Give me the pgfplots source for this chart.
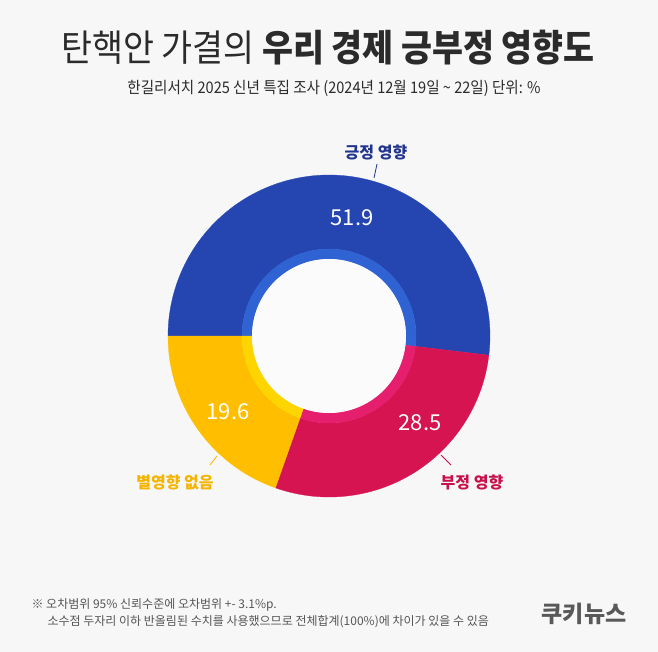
\documentclass[border=0pt]{standalone}
\usepackage{pgfplots}
\pgfplotsset{compat=1.18}
\usepackage{pgfplotstable}
\usepackage{graphicx}
\usepackage{fontspec}
\setmainfont{Noto Sans CJK KR}
\definecolor{bgc}{HTML}{F7F7F7}
\definecolor{holec}{HTML}{FBFBFC}
\definecolor{cBlue}{HTML}{2546B0}
\definecolor{cBlueIn}{HTML}{2F62D3}
\definecolor{cRed}{HTML}{D61452}
\definecolor{cRedIn}{HTML}{E51E6E}
\definecolor{cYel}{HTML}{FFBF00}
\definecolor{cYelIn}{HTML}{FFD500}
\definecolor{lBlue}{HTML}{22358E}
\definecolor{lRed}{HTML}{C8104B}
\definecolor{lYel}{HTML}{F4B400}
\definecolor{titlec}{HTML}{2B2B2B}
\definecolor{notec}{HTML}{555555}
\definecolor{logoc}{HTML}{595959}

\pgfplotstableread{
name value
pos 51.9
neg 28.5
none 19.6
}\pietable

\begin{document}
\begin{tikzpicture}[
  declare function={
    wt(\t,\a,\b)=ifthenelse(\t<=1,\a+\t*(\b-\a),ifthenelse(\t<=1.1,\b,\b-(\t-1.1)*(\b-\a)));
    wr(\t,\R,\r)=ifthenelse(\t<=1,\R,ifthenelse(\t<=1.1,\R+(\t-1)*10*(\r-\R),\r));
  }]
\pgfplotstablegetelem{0}{value}\of\pietable \let\vA\pgfplotsretval
\pgfplotstablegetelem{1}{value}\of\pietable \let\vB\pgfplotsretval
\pgfplotstablegetelem{2}{value}\of\pietable \let\vC\pgfplotsretval
\pgfmathsetmacro\aA{180}
\pgfmathsetmacro\bA{\aA-3.6*\vA}
\pgfmathsetmacro\bB{\bA-3.6*\vB}
\pgfmathsetmacro\bC{\bB-3.6*\vC}
\def\cx{329}\def\cy{336}
\begin{axis}[width=658pt,height=652pt,scale only axis,
  xmin=0,xmax=658,ymin=0,ymax=652,y dir=reverse,hide axis,clip=false]
\fill[bgc] (rel axis cs:0,0) rectangle (rel axis cs:1,1);
% outer ring
\addplot[fill=cBlue,draw=cBlue,line width=0.3pt,domain=0:2.1,samples=211]
  ({\cx+wr(x,161,87)*cos(wt(x,\aA,\bA))},{\cy-wr(x,161,87)*sin(wt(x,\aA,\bA))}) -- cycle;
\addplot[fill=cRed,draw=cRed,line width=0.3pt,domain=0:2.1,samples=211]
  ({\cx+wr(x,161,87)*cos(wt(x,\bA,\bB))},{\cy-wr(x,161,87)*sin(wt(x,\bA,\bB))}) -- cycle;
\addplot[fill=cYel,draw=cYel,line width=0.3pt,domain=0:2.1,samples=211]
  ({\cx+wr(x,161,87)*cos(wt(x,\bB,\bC))},{\cy-wr(x,161,87)*sin(wt(x,\bB,\bC))}) -- cycle;
% inner ring
\addplot[fill=cBlueIn,draw=cBlueIn,line width=0.3pt,domain=0:2.1,samples=211]
  ({\cx+wr(x,87,77)*cos(wt(x,\aA,\bA))},{\cy-wr(x,87,77)*sin(wt(x,\aA,\bA))}) -- cycle;
\addplot[fill=cRedIn,draw=cRedIn,line width=0.3pt,domain=0:2.1,samples=211]
  ({\cx+wr(x,87,77)*cos(wt(x,\bA,\bB))},{\cy-wr(x,87,77)*sin(wt(x,\bA,\bB))}) -- cycle;
\addplot[fill=cYelIn,draw=cYelIn,line width=0.3pt,domain=0:2.1,samples=211]
  ({\cx+wr(x,87,77)*cos(wt(x,\bB,\bC))},{\cy-wr(x,87,77)*sin(wt(x,\bB,\bC))}) -- cycle;
% hole
\addplot[fill=holec,draw=none,domain=0:360,samples=181]
  ({\cx+77*cos(x)},{\cy-77*sin(x)}) -- cycle;
% leader lines
\draw[lBlue,line width=0.8pt] (axis cs:377,164) -- (axis cs:374,178);
\draw[lRed,line width=0.8pt] (axis cs:441,455) -- (axis cs:451,465);
\draw[lYel,line width=0.8pt] (axis cs:210,465) -- (axis cs:217,456);
% category labels
\node[text=lBlue,font=\fontsize{16}{16}\selectfont\bfseries] at (axis cs:376,152) {긍정 영향};
\node[text=lRed,font=\fontsize{16}{16}\selectfont\bfseries] at (axis cs:472,482) {부정 영향};
\node[text=lYel,font=\fontsize{16}{16}\selectfont\bfseries] at (axis cs:175,482) {별영향 없음};
% values
\node[text=white,font=\fontsize{22}{22}\selectfont] at (axis cs:352,218) {\vA};
\node[text=white,font=\fontsize{22}{22}\selectfont] at (axis cs:420,423) {\vB};
\node[text=white,font=\fontsize{22}{22}\selectfont] at (axis cs:228,412) {\vC};
% titles
\node[text=titlec,font=\fontsize{37}{37}\selectfont] at (axis cs:328,48) {\scalebox{0.91}[1]{탄핵안 가결의 \textbf{우리 경제 긍부정 영향도}}};
\node[text=titlec,font=\fontsize{16}{16}\selectfont] at (axis cs:334,88) {\scalebox{0.91}[1]{한길리서치 2025 신년 특집 조사 (2024년 12월 19일 \textasciitilde{} 22일) 단위: \%}};
% notes
\node[text=notec,anchor=west,font=\fontsize{12}{12}\selectfont] at (axis cs:28,605) {※ 오차범위 95\% 신뢰수준에 오차범위 +- 3.1\%p.};
\node[text=notec,anchor=west,font=\fontsize{12}{12}\selectfont] at (axis cs:44,622) {소수점 두자리 이하 반올림된 수치를 사용했으므로 전체합계(100\%)에 차이가 있을 수 있음};
\node[text=logoc,font=\fontsize{23}{23}\selectfont\bfseries] at (axis cs:584,614) {쿠키뉴스};
\end{axis}
\end{tikzpicture}
\end{document}
